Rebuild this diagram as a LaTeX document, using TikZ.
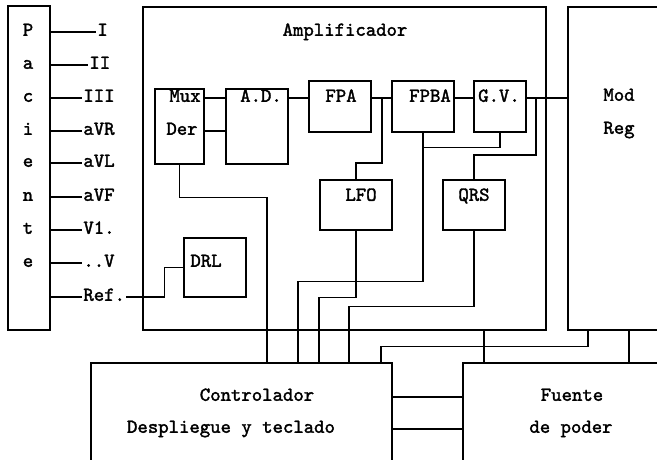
\documentclass[tikz,border=0pt]{standalone}
\usepackage{fontspec}
\newfontfamily\diafont{lmmono10-regular}[Extension=.otf, FakeBold=1.8]
\usepackage{tikz}

\tikzset{
  blk/.style 2 args={draw, line width=1.1pt, minimum width=#1*0.03cm,
    minimum height=#2*0.03cm, inner sep=0pt},
  lbl/.style={font=\diafont\fontsize{16.9}{18}\selectfont,
    inner sep=1pt, text height=1.5ex, text depth=0pt},
  wire/.style={line width=1.1pt},
}

\begin{document}
\begin{tikzpicture}[x=0.03cm, y=-0.03cm]
    \useasboundingbox (0,0) rectangle (657,460);
    \clip (0,0) rectangle (657,460);

    % Paciente column with the leads
    \node[blk={42}{324}] (pac) at (29,168) {};
    \foreach \ch/\yy [count=\i] in {P/32,a/65,c/98,i/131,e/163,n/197,t/230,e/263} {
      \node[lbl] (pl\i) at (28,\yy) {\ch};
    }
    \foreach \name/\txt/\xx/\yy in {ldi/I/96/32, ldii/II/88/65, ldiii/III/82/98,
        ldavr/aVR/82/131, ldavl/aVL/82/163, ldavf/aVF/82/197,
        ldvi/V1./82/230, ldv/..V/82/263, ref/Ref./82/297} {
      \node[lbl, anchor=west] (\name) at (\xx,\yy) {\txt};
      \draw[wire] (\name.west -| pac.east) -- (\name.west);
    }

    % Amplificador and its blocks
    \node[blk={403}{323}] (amp) at (344.5,168.5) {};
    \node[lbl] (amptitle) at (345,32) {Amplificador};

    \node[blk={49}{75}] (mux) at (179.5,126.5) {};
    \node[lbl] (muxt) at (185,98) {Mux};
    \node[lbl] (dert) at (182,131) {Der};
    \node[blk={62}{75}] (ad) at (257,126.5) {};
    \node[lbl] (adt) at (261,98) {A.D.};
    \node[blk={62}{51}] (fpa) at (340,106.5) {};
    \node[lbl] (fpat) at (341,98) {FPA};
    \node[blk={62}{51}] (fpba) at (423,106.5) {};
    \node[lbl] (fpbat) at (430,98) {FPBA};
    \node[blk={52}{51}] (gv) at (500,106.5) {};
    \node[lbl] (gvt) at (499,98) {G.V.};
    \node[blk={72}{50}] (lfo) at (356,205) {};
    \node[lbl] (lfot) at (361,197) {LFO};
    \node[blk={62}{50}] (qrs) at (474,205) {};
    \node[lbl] (qrst) at (474,197) {QRS};
    \node[blk={62}{59}] (drl) at (215,267.5) {};
    \node[lbl] (drlt) at (206,263) {DRL};

    % Mod Reg, Controlador, Fuente
    \node[blk={122}{323}] (modreg) at (629,168.5) {};
    \node[lbl] (modt) at (619,97) {Mod};
    \node[lbl] (regt) at (619,130) {Reg};
    \node[blk={301}{117}] (ctrl) at (241.5,421.5) {};
    \node[lbl] (ctrlt) at (257,397) {Controlador};
    \node[lbl] (despt) at (231,429) {Despliegue y teclado};
    \node[blk={227}{117}] (fuente) at (576.5,421.5) {};
    \node[lbl] (fuentet) at (572,397) {Fuente};
    \node[lbl] (podert) at (571,429) {de poder};

    % Signal chain
    \draw[wire] (muxt -| mux.east) -- (muxt -| ad.west);
    \draw[wire] (dert -| mux.east) -- (dert -| ad.west);
    \draw[wire] (fpat -| ad.east) -- (fpat -| fpa.west);
    \draw[wire] (fpat -| fpa.east) -- (fpat -| fpba.west);
    \draw[wire] (fpbat -| fpba.east) -- (fpbat -| gv.west);
    \draw[wire] (gvt -| gv.east) -- (gvt -| modreg.west);
    \draw[wire] (382,0 |- fpat) -- ++(0,65) -| (lfo.north);
    \draw[wire] (536,0 |- gvt) -- ++(0,57) -| (qrs.north);
    \draw[wire] (gv.south) -- ++(0,15) -| (fpba.south);
    \draw[wire] (ref.east) -- ++(38,0) |- (drl.west);

    % Buses down to the Controlador
    \draw[wire] (mux.south) -- ++(0,33) -| (267,0 |- ctrl.north);
    \draw[wire] (fpba.south) -- ++(0,149) -| (298,0 |- ctrl.north);
    \draw[wire] (lfo.south) -- ++(0,67) -| (319,0 |- ctrl.north);
    \draw[wire] (qrs.south) -- ++(0,76) -| (349,0 |- ctrl.north);
    \draw[wire] (381,0 |- ctrl.north) -- ++(0,-16) -| (588,0 |- modreg.south);

    % Power
    \draw[wire] (484,0 |- amp.south) -- (484,0 |- fuente.north);
    \draw[wire] (629,0 |- modreg.south) -- (629,0 |- fuente.north);
    \draw[wire] (ctrlt -| ctrl.east) -- (ctrlt -| fuente.west);
    \draw[wire] (despt -| ctrl.east) -- (despt -| fuente.west);
\end{tikzpicture}
\end{document}
